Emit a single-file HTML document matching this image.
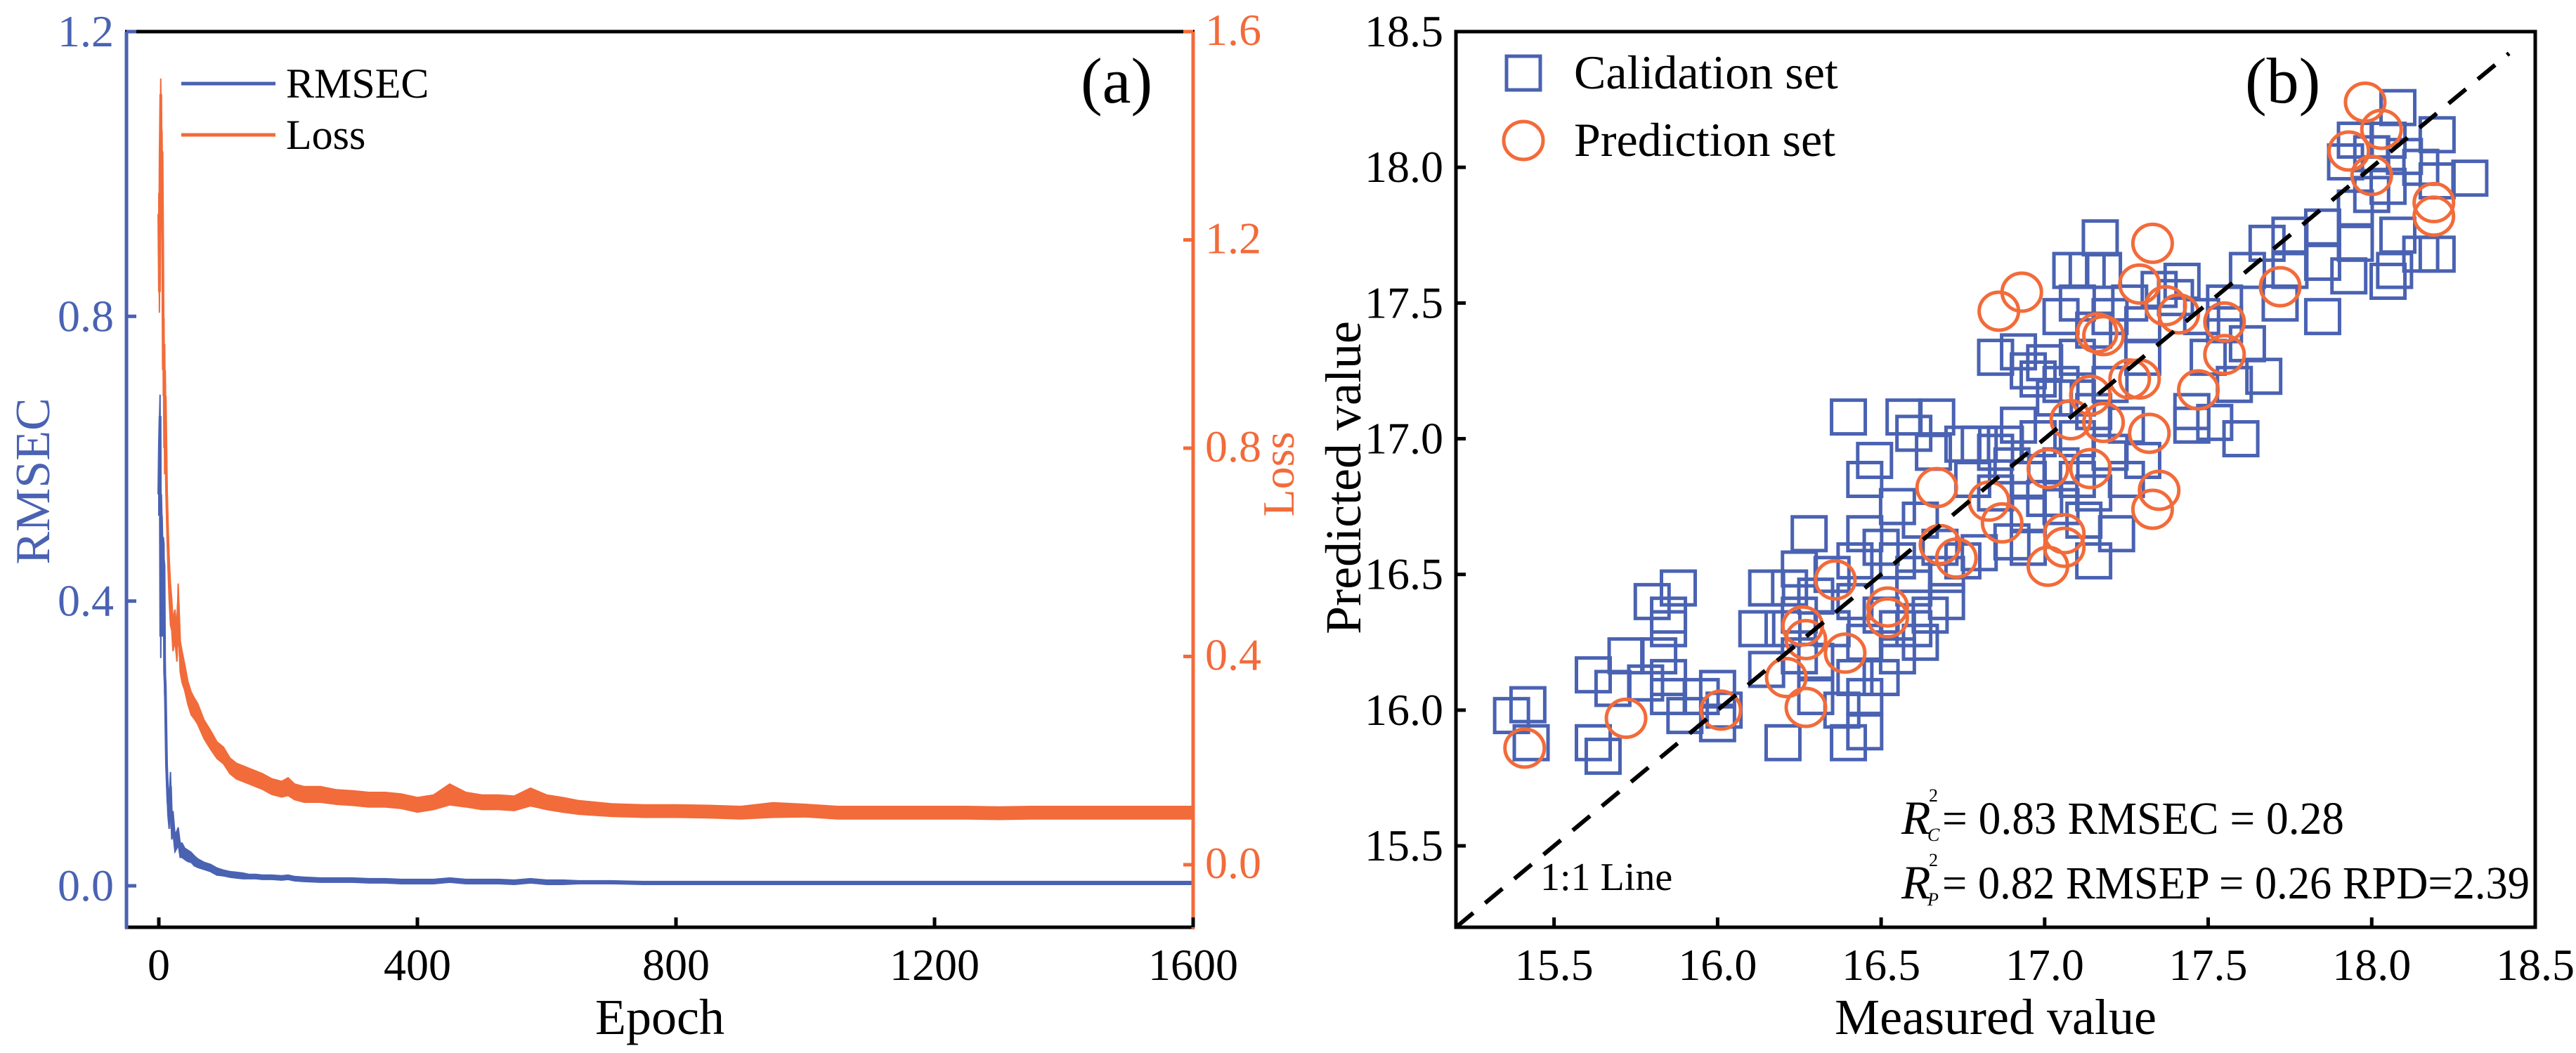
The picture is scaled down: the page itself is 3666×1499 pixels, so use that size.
<!DOCTYPE html>
<html><head><meta charset="utf-8"><style>
html,body{margin:0;padding:0;background:#fff;}
svg, svg text{font-family:"Liberation Serif","Times New Roman","DejaVu Serif",serif;}
</style></head><body>
<svg id="fig" width="3666" height="1494" viewBox="0 0 3666 1494" xmlns="http://www.w3.org/2000/svg">
<rect width="3666" height="1494" fill="#fff"/>
<g id="pa"></g>
<g id="pb"></g>
</svg>
<script>
// ---------- Panel (a) data ----------
const epochs = [0,1,2,3,4,5,6,7,8,9,10,12,14,16,18,20,22,25,28,30,33,36,40,45,50,55,60,70,80,90,100,110,120,130,140,150,160,175,190,200,210,225,250,275,300,325,350,375,400,425,450,475,500,525,550,575,600,625,650,700,750,800,850,900,950,1000,1050,1100,1150,1200,1250,1300,1350,1400,1450,1500,1550,1600];
const lossValues = [1.25,1.1,1.35,1.48,1.3,1.37,1.2,0.95,1.0,0.8,0.9,0.72,0.62,0.55,0.5,0.48,0.44,0.46,0.42,0.5,0.4,0.38,0.36,0.33,0.31,0.3,0.29,0.26,0.24,0.22,0.21,0.19,0.18,0.175,0.17,0.165,0.16,0.15,0.145,0.15,0.14,0.135,0.135,0.13,0.128,0.125,0.125,0.122,0.115,0.12,0.135,0.125,0.12,0.12,0.118,0.13,0.12,0.115,0.11,0.105,0.103,0.103,0.102,0.1,0.105,0.104,0.1,0.1,0.1,0.1,0.1,0.099,0.1,0.1,0.1,0.1,0.1,0.1];
const lossSpread = [0.04,0.04,0.04,0.03,0.04,0.04,0.04,0.05,0.05,0.05,0.05,0.04,0.04,0.04,0.04,0.03,0.03,0.03,0.03,0.04,0.03,0.03,0.025,0.022,0.022,0.02,0.02,0.018,0.018,0.016,0.016,0.015,0.015,0.015,0.015,0.015,0.015,0.015,0.015,0.017,0.015,0.015,0.015,0.014,0.014,0.014,0.014,0.014,0.014,0.014,0.02,0.014,0.014,0.014,0.014,0.017,0.014,0.014,0.013,0.012,0.012,0.012,0.012,0.012,0.014,0.012,0.012,0.012,0.012,0.012,0.012,0.012,0.012,0.012,0.012,0.012,0.012,0.012];
const rmsecValues = [0.55,0.62,0.66,0.35,0.52,0.48,0.38,0.46,0.45,0.3,0.28,0.17,0.12,0.1,0.14,0.08,0.09,0.06,0.065,0.07,0.05,0.05,0.045,0.042,0.04,0.035,0.032,0.028,0.025,0.02,0.018,0.016,0.015,0.014,0.013,0.013,0.012,0.012,0.011,0.012,0.01,0.009,0.008,0.008,0.008,0.007,0.007,0.006,0.006,0.006,0.008,0.006,0.006,0.006,0.005,0.007,0.005,0.005,0.005,0.005,0.004,0.004,0.004,0.004,0.004,0.004,0.004,0.004,0.004,0.004,0.004,0.004,0.004,0.004,0.004,0.004,0.004,0.004];
const rmsecSpread = [0.03,0.03,0.03,0.03,0.03,0.03,0.03,0.03,0.03,0.03,0.03,0.02,0.02,0.02,0.02,0.015,0.015,0.012,0.012,0.012,0.01,0.01,0.008,0.008,0.007,0.007,0.006,0.005,0.005,0.005,0.004,0.004,0.004,0.004,0.003,0.003,0.003,0.003,0.003,0.003,0.003,0.003,0.003,0.003,0.003,0.003,0.003,0.003,0.003,0.003,0.003,0.003,0.003,0.003,0.003,0.003,0.003,0.003,0.002,0.002,0.002,0.002,0.002,0.002,0.002,0.002,0.002,0.002,0.002,0.002,0.002,0.002,0.002,0.002,0.002,0.002,0.002,0.002];
const epochTicks = [0,400,800,1200,1600];
const rmsecTicks = [0.0,0.4,0.8,1.2];
const lossTicks = [0.0,0.4,0.8,1.2,1.6];

// ---------- Panel (b) data ----------
const calMeasured = [18.08,18.2,17.95,18.05,18.0,18.1,18.15,18.3,17.92,18.05,18.0,17.85,17.95,18.08,18.15,17.85,17.93,18.07,18.2,17.75,17.75,17.72,17.85,17.95,18.2,18.05,
17.68,17.62,17.55,17.62,17.4,17.42,17.35,17.48,17.5,17.58,17.67,17.45,17.52,17.6,17.45,17.55,17.3,17.2,17.18,17.26,17.3,
17.17,17.08,17.13,17.1,17.05,17.15,17.1,17.0,16.95,16.98,17.05,16.85,16.92,17.03,17.1,17.15,16.92,16.98,16.88,16.85,16.8,16.75,16.9,16.95,17.05,17.1,17.15,17.25,17.3,17.2,17.05,17.0,16.95,17.12,17.22,17.15,17.1,17.2,17.25,16.85,16.78,16.9,16.95,
16.4,16.57,16.67,16.6,16.66,16.48,16.45,16.55,16.62,16.68,16.75,16.8,16.28,16.45,16.5,16.55,16.6,16.42,16.35,16.25,16.22,16.15,16.3,16.42,16.5,16.55,16.6,16.65,16.7,16.62,16.55,16.45,16.35,16.25,16.2,16.12,16.15,16.25,16.3,16.42,16.5,16.45,16.38,16.45,16.4,16.2,16.3,16.6,16.7,
15.37,15.42,15.43,15.62,15.65,15.62,15.68,15.72,15.8,15.85,15.88,15.85,15.82,15.85,15.85,15.9,15.95,16.0,16.02,16.0,15.78];
const calPredicted = [18.22,18.12,18.1,18.1,18.05,18.04,18.0,17.96,18.02,17.93,17.9,17.78,17.72,17.75,17.68,17.65,17.6,17.62,17.68,17.75,17.62,17.5,17.45,17.85,17.95,17.58,
17.72,17.62,17.5,17.35,17.52,17.58,17.55,17.45,17.3,17.2,17.23,17.1,17.06,17.0,17.05,17.42,17.3,17.45,17.62,17.5,17.42,
17.74,17.62,17.62,17.5,17.45,17.4,17.3,17.28,17.25,17.22,17.2,17.3,17.32,17.15,17.15,17.1,17.05,17.0,16.98,16.95,16.98,16.98,16.9,16.85,16.9,16.85,16.8,16.85,16.92,16.95,16.75,16.78,16.72,16.7,16.65,16.55,17.0,17.2,17.05,16.8,16.85,16.62,16.6,
17.08,17.08,17.08,17.02,16.95,16.92,16.85,16.75,16.7,16.6,16.55,16.58,16.65,16.65,16.6,16.55,16.5,16.55,16.5,16.52,16.45,16.45,16.42,16.4,16.35,16.3,16.3,16.35,16.4,16.25,16.2,16.25,16.3,16.35,16.3,16.3,16.15,16.2,16.18,16.12,16.12,16.05,16.0,15.92,15.88,15.88,16.05,16.45,16.5,
15.98,16.02,15.88,15.88,15.83,16.13,16.08,16.2,16.4,16.35,16.45,16.3,16.2,16.12,16.05,15.98,16.05,15.95,16.0,16.08,16.1];
const predMeasured = [17.98,18.03,17.93,18.0,18.19,18.19,17.33,17.29,17.37,17.41,17.72,17.55,17.55,17.47,16.93,16.86,17.16,17.18,17.26,17.29,17.14,17.08,17.18,17.32,17.01,17.14,16.67,16.83,16.87,17.35,17.33,17.06,17.06,17.01,16.68,16.73,16.36,16.52,16.52,16.26,16.27,16.39,16.21,16.27,16.01,15.72,15.41];
const predPredicted = [18.24,18.14,18.06,17.97,17.87,17.82,17.72,17.57,17.49,17.46,17.56,17.43,17.31,17.18,17.54,17.47,17.39,17.38,17.22,17.22,17.16,17.07,17.06,17.02,16.89,16.89,16.82,16.77,16.69,16.81,16.74,16.65,16.6,16.53,16.61,16.56,16.48,16.38,16.34,16.31,16.26,16.21,16.12,16.01,16.0,15.97,15.86];
const bTicks = [15.5,16.0,16.5,17.0,17.5,18.0,18.5];

const BLUE = "#4a62b2", ORANGE = "#f26b3a";
const FONT = '"Liberation Serif", "Times New Roman", "DejaVu Serif", serif';
const NS = "http://www.w3.org/2000/svg";
function mk(parent, tag, attrs, text) {
  const e = document.createElementNS(NS, tag);
  for (const k in attrs) e.setAttribute(k, attrs[k]);
  if (tag === 'text') e.style.fontFamily = FONT;
  if (text !== undefined) e.textContent = text;
  parent.appendChild(e);
  return e;
}

// ---------- Panel (a) ----------
const pa = document.getElementById('pa');
const AL = 180, AR = 1698, AT = 45, AB = 1320;
const xA = e => 226 + (e / 1600) * (1698 - 226);
const yR = v => 1261 - v * (1261 - 45) / 1.2;
const yL = v => 1231 - v * (1231 - 45) / 1.6;

function band(vals, spread, yf, color, name) {
  let up = [], lo = [];
  for (let i = 0; i < epochs.length; i++) {
    up.push(xA(epochs[i]).toFixed(1) + ',' + yf(vals[i] + spread[i]).toFixed(1));
    lo.unshift(xA(epochs[i]).toFixed(1) + ',' + yf(vals[i] - spread[i]).toFixed(1));
  }
  const b = mk(pa, 'polygon', {points: up.concat(lo).join(' '), fill: color, stroke: color, 'stroke-width': 2});
  
  
  const pts = epochs.map((e, i) => xA(e).toFixed(1) + ',' + yf(vals[i]).toFixed(1)).join(' ');
  const l = mk(pa, 'polyline', {points: pts, fill: 'none', stroke: color, 'stroke-width': 4});
  
  
}
band(lossValues, lossSpread, yL, ORANGE, 'loss');
band(rmsecValues, rmsecSpread, yR, BLUE, 'rmsec');

let ax;
ax = mk(pa, 'line', {x1: AL - 2, y1: AT, x2: AR + 2, y2: AT, stroke: '#000', 'stroke-width': 5});
 
ax = mk(pa, 'line', {x1: AL - 2, y1: AB, x2: AR + 2, y2: AB, stroke: '#000', 'stroke-width': 5});
 
ax = mk(pa, 'line', {x1: AL, y1: AT, x2: AL, y2: AB + 2, stroke: BLUE, 'stroke-width': 5});
 
ax = mk(pa, 'line', {x1: AR, y1: AT, x2: AR, y2: AB + 2, stroke: ORANGE, 'stroke-width': 5});
 

epochTicks.forEach(t => {
  const x = xA(t);
  mk(pa, 'line', {x1: x, y1: AB, x2: x, y2: AB - 14, stroke: '#000', 'stroke-width': 5});
  const tl = mk(pa, 'text', {x: x, y: 1395, 'font-size': 64, 'text-anchor': 'middle', fill: '#000'}, String(t));
  
  
});
rmsecTicks.forEach(t => {
  const y = yR(t);
  mk(pa, 'line', {x1: AL, y1: y, x2: AL + 14, y2: y, stroke: BLUE, 'stroke-width': 5});
  const tl = mk(pa, 'text', {x: 162, y: y + 21, 'font-size': 64, 'text-anchor': 'end', fill: BLUE}, t.toFixed(1));
  
  
});
lossTicks.forEach(t => {
  const y = yL(t);
  mk(pa, 'line', {x1: AR, y1: y, x2: AR - 14, y2: y, stroke: ORANGE, 'stroke-width': 5});
  const tl = mk(pa, 'text', {x: 1715, y: y + 19, 'font-size': 64, 'text-anchor': 'start', fill: ORANGE}, t.toFixed(1));
  
  
});
let lb;
lb = mk(pa, 'text', {x: 939, y: 1472, 'font-size': 72, 'text-anchor': 'middle', fill: '#000'}, 'Epoch');
 
lb = mk(pa, 'text', {x: 0, y: 0, 'font-size': 70, 'text-anchor': 'middle', fill: BLUE, transform: 'translate(70,685) rotate(-90)'}, 'RMSEC');
 
lb = mk(pa, 'text', {x: 0, y: 0, 'font-size': 64, 'text-anchor': 'middle', fill: ORANGE, transform: 'translate(1841,675) rotate(-90)'}, 'Loss');
 
lb = mk(pa, 'text', {x: 1538, y: 146, 'font-size': 92, fill: '#000'}, '(a)');
 
const lg = mk(pa, 'g', {});
 
mk(lg, 'line', {x1: 258, y1: 119, x2: 392, y2: 119, stroke: BLUE, 'stroke-width': 5});
lb = mk(lg, 'text', {x: 407, y: 139, 'font-size': 60, fill: '#000'}, 'RMSEC');
 
mk(lg, 'line', {x1: 258, y1: 192, x2: 392, y2: 192, stroke: ORANGE, 'stroke-width': 5});
lb = mk(lg, 'text', {x: 407, y: 212, 'font-size': 60, fill: '#000'}, 'Loss');
 

// ---------- Panel (b) ----------
const pb = document.getElementById('pb');
const BL = 2072, BR = 3608, BT = 45, BB = 1320;
const xB = v => BL + (v - 15.2) * (BR - BL) / 3.3;
const yB = v => BB - (v - 15.2) * (BB - BT) / 3.3;

for (let i = 0; i < calMeasured.length; i++) {
  const s = 48;
  const r = mk(pb, 'rect', {x: xB(calMeasured[i]) - s / 2, y: yB(calPredicted[i]) - s / 2, width: s, height: s, fill: 'none', stroke: BLUE, 'stroke-width': 5});
  
  
}
for (let i = 0; i < predMeasured.length; i++) {
  const c = mk(pb, 'ellipse', {cx: xB(predMeasured[i]), cy: yB(predPredicted[i]), rx: 28, ry: 27, fill: 'none', stroke: ORANGE, 'stroke-width': 5});
  
  
}
lb = mk(pb, 'line', {x1: xB(15.2), y1: yB(15.2), x2: xB(18.42), y2: yB(18.42), stroke: '#000', 'stroke-width': 6, 'stroke-dasharray': '32 22'});
 

ax = mk(pb, 'rect', {x: BL, y: BT, width: BR - BL, height: BB - BT, fill: 'none', stroke: '#000', 'stroke-width': 5});
 
bTicks.forEach(t => {
  const x = xB(t), y = yB(t);
  mk(pb, 'line', {x1: x, y1: BB, x2: x, y2: BB - 14, stroke: '#000', 'stroke-width': 5});
  mk(pb, 'line', {x1: BL, y1: y, x2: BL + 14, y2: y, stroke: '#000', 'stroke-width': 5});
  let tl = mk(pb, 'text', {x: x, y: 1395, 'font-size': 64, 'text-anchor': 'middle', fill: '#000'}, t.toFixed(1));
  
  
  tl = mk(pb, 'text', {x: 2054, y: y + 21, 'font-size': 64, 'text-anchor': 'end', fill: '#000'}, t.toFixed(1));
  
  
});
lb = mk(pb, 'text', {x: 2840, y: 1472, 'font-size': 72, 'text-anchor': 'middle', fill: '#000'}, 'Measured value');
 
lb = mk(pb, 'text', {x: 0, y: 0, 'font-size': 72, 'text-anchor': 'middle', fill: '#000', transform: 'translate(1936,680) rotate(-90)'}, 'Predicted value');
 
lb = mk(pb, 'text', {x: 3195, y: 146, 'font-size': 92, fill: '#000'}, '(b)');
 
const lgb = mk(pb, 'g', {});
 
mk(lgb, 'rect', {x: 2144, y: 80, width: 48, height: 48, fill: 'none', stroke: BLUE, 'stroke-width': 5});
lb = mk(lgb, 'text', {x: 2240, y: 126, 'font-size': 68, fill: '#000'}, 'Calidation set');
 
mk(lgb, 'ellipse', {cx: 2168, cy: 200, rx: 28, ry: 27, fill: 'none', stroke: ORANGE, 'stroke-width': 5});
lb = mk(lgb, 'text', {x: 2240, y: 222, 'font-size': 68, fill: '#000'}, 'Prediction set');
 
lb = mk(pb, 'text', {x: 2192, y: 1267, 'font-size': 56, fill: '#000'}, '1:1 Line');
 
function stat(yb, sub, rest, len, name) {
  const g = mk(pb, 'g', {});
   
  mk(g, 'text', {x: 2706, y: yb, 'font-size': 68, 'font-style': 'italic', fill: '#000'}, 'R');
  mk(g, 'text', {x: 2745, y: yb - 46, 'font-size': 26, fill: '#000'}, '2');
  mk(g, 'text', {x: 2743, y: yb + 10, 'font-size': 26, 'font-style': 'italic', fill: '#000'}, sub);
  mk(g, 'text', {x: 2764, y: yb, 'font-size': 66, fill: '#000', textLength: len, lengthAdjust: 'spacingAndGlyphs'}, rest);
}
stat(1187, 'C', '= 0.83  RMSEC = 0.28', 572, 'stats-calibration');
stat(1279, 'P', '= 0.82  RMSEP = 0.26 RPD=2.39', 836, 'stats-prediction');
</script>
</body></html>
